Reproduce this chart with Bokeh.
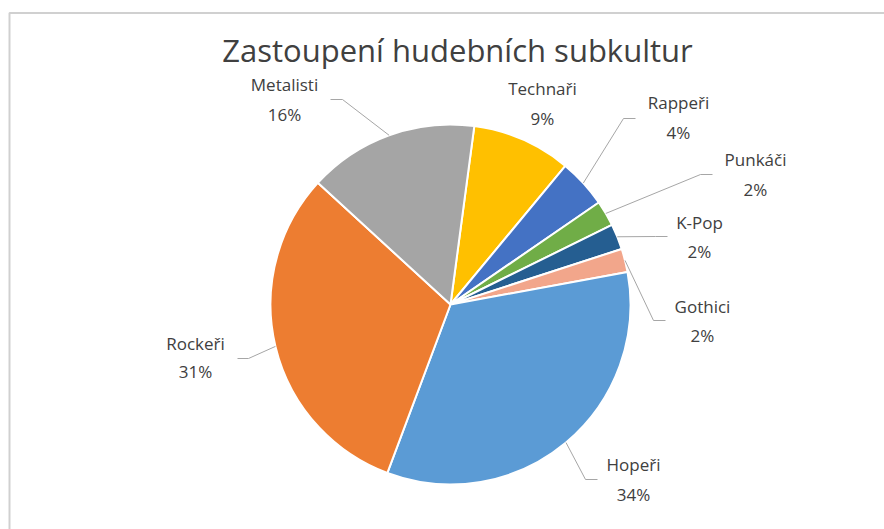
import math
from bokeh.plotting import figure
from bokeh.models import Range1d, ColumnDataSource
from bokeh.core.properties import value
from bokeh.embed import file_html
from bokeh.resources import INLINE

# ---- data (clockwise from the first slice) ----
categories = ["Technaři", "Rappeři", "Punkáči", "K-Pop", "Gothici", "Hopeři", "Rockeři", "Metalisti"]
shares = [8.9, 4.4, 2.3, 2.3, 2.1, 33.6, 31.1, 15.3]
pct_labels = ["9%", "4%", "2%", "2%", "2%", "34%", "31%", "16%"]
colors = ["#FFC000", "#4472C4", "#70AD47", "#255E91", "#F2A68B", "#5B9BD5", "#ED7D31", "#A5A5A5"]
title_text = "Zastoupení hudebních subkultur"

# ---- layout (page pixel coordinates) ----
W, H = 884, 529
first_slice_deg = 7.6      # clockwise offset from 12 o'clock
cx_pg, cy_pg, R = 450, 304, 180
LBL_FS, TITLE_FS = 17, 31
# label centre x, name baseline y, pct baseline y, elbow x, elbow y, end x  (None = no leader)
label_layout = {
    "Technaři": (542, 95, 125, None, None, None),
    "Rappeři": (678, 109, 139, 623, 118, 635),
    "Punkáči": (755, 166, 196, 700, 174, 712),
    "K-Pop": (699, 229, 258, 655, 236, 667),
    "Gothici": (702, 313, 342, 653, 320, 665),
    "Hopeři": (633, 471, 501, 585, 479, 597),
    "Rockeři": (195, 350, 378, 248, 358, 237),
    "Metalisti": (284, 91, 121, 342, 99, 330),
}

def Y(py):
    return H - py

p = figure(width=W, height=H, output_backend="svg", toolbar_location=None,
           x_range=Range1d(0, W), y_range=Range1d(0, H), min_border=0)
p.axis.visible = False
p.grid.visible = False
p.outline_line_color = None
p.background_fill_color = "white"
p.border_fill_color = "white"

# frame border (top and left edges visible)
p.line([9, 9, W + 5], [Y(600), Y(12.5), Y(12.5)], line_color="#D0D0D0", line_width=2)

# wedges
total = sum(shares)
starts, ends, mids = [], [], []
acc = first_slice_deg
for s in shares:
    d = s / total * 360.0
    starts.append(acc)
    ends.append(acc + d)
    mids.append(acc + d / 2)
    acc += d

src = ColumnDataSource(dict(
    x=[cx_pg] * len(shares), y=[Y(cy_pg)] * len(shares),
    start=[math.radians(90 - a) for a in starts],
    end=[math.radians(90 - a) for a in ends],
    color=colors,
))
p.wedge(x="x", y="y", radius=R, start_angle="start", end_angle="end", direction="clock",
        fill_color="color", line_color="white", line_width=2, source=src)

# leader lines
xs, ys = [], []
for cat, m in zip(categories, mids):
    lx, nb, pb, ex, ey, endx = label_layout[cat]
    if ex is None:
        continue
    sx = cx_pg + R * math.sin(math.radians(m))
    sy = cy_pg - R * math.cos(math.radians(m))
    xs.append([sx, ex, endx])
    ys.append([Y(sy), Y(ey), Y(ey)])
p.multi_line(xs, ys, line_color="#A6A6A6", line_width=1)

# labels (baseline correction for the renderer)
font = value("Open Sans")
lo = 0.42 * LBL_FS
p.text(x=[label_layout[c][0] for c in categories], y=[Y(label_layout[c][1] - lo) for c in categories],
       text=categories, text_font=font, text_font_size=f"{LBL_FS}px", text_color="#404040",
       text_align="center", text_baseline="alphabetic")
p.text(x=[label_layout[c][0] for c in categories], y=[Y(label_layout[c][2] - lo) for c in categories],
       text=pct_labels, text_font=font, text_font_size=f"{LBL_FS}px", text_color="#404040",
       text_align="center", text_baseline="alphabetic")

# title
p.text(x=[457], y=[Y(62 - 0.4 * TITLE_FS)], text=[title_text], text_font=font,
       text_font_size=f"{TITLE_FS}px", text_color="#404040", text_align="center",
       text_baseline="alphabetic")

open("out.html", "w").write(file_html(p, INLINE))
